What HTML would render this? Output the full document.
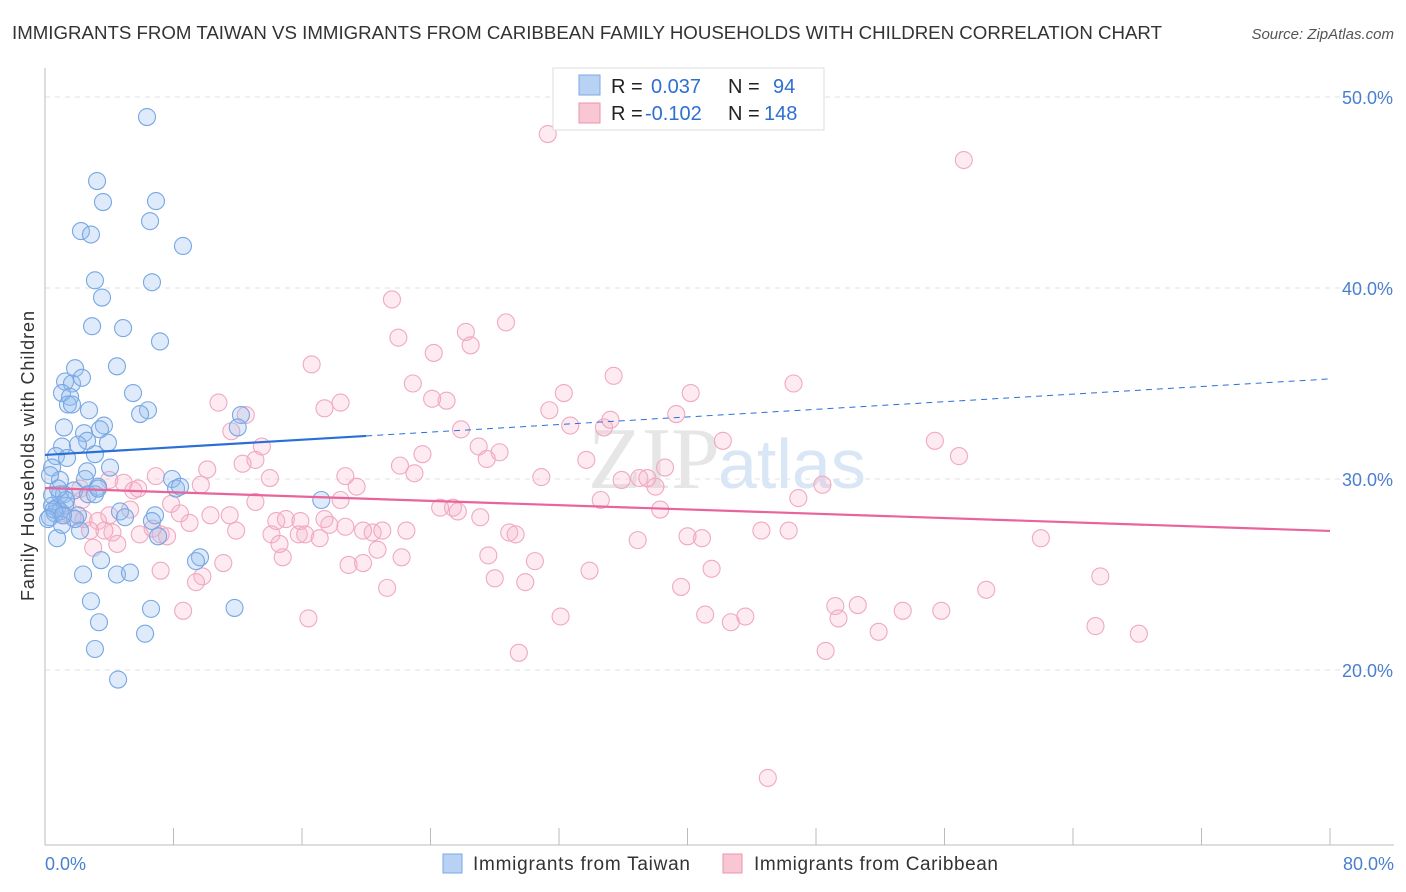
<!DOCTYPE html>
<html><head><meta charset="utf-8"><style>
body{margin:0;background:#fff;font-family:"Liberation Sans",sans-serif;}
svg{display:block}
</style></head><body>
<svg id="chart" width="1406" height="892">
<text x="12" y="39" font-size="18" fill="#333" textLength="1150" lengthAdjust="spacingAndGlyphs">IMMIGRANTS FROM TAIWAN VS IMMIGRANTS FROM CARIBBEAN FAMILY HOUSEHOLDS WITH CHILDREN CORRELATION CHART</text>
<text x="1394" y="39" font-size="15" fill="#555" font-style="italic" text-anchor="end">Source: ZipAtlas.com</text>
<g id="grid"></g>
<text x="720" y="488" font-size="88" fill="#e6e6e6" text-anchor="end" font-family="Liberation Serif,serif">ZIP</text>
<text x="718" y="488" font-size="70" fill="#d9e6f5">atlas</text>
<g id="points"></g>
<g id="trends"></g>
<text x="34" y="456" font-size="18" fill="#333" text-anchor="middle" transform="rotate(-90 34 456)" textLength="290">Family Households with Children</text>
<text x="45" y="870" font-size="18" fill="#4a7fd0">0.0%</text>
<text x="1394" y="870" font-size="18" fill="#4a7fd0" text-anchor="end">80.0%</text>
<g>
<rect x="553" y="68" width="271" height="62" fill="#fff" stroke="#ddd"/>
<rect x="579" y="75" width="21" height="20" fill="#b8d2f4" stroke="#7aa8e4"/>
<rect x="579" y="103" width="21" height="20" fill="#f9c6d4" stroke="#eb94b0"/>
<text x="611" y="93" font-size="20" fill="#222">R = <tspan fill="#2e6fd0" x="651">0.037</tspan><tspan x="728">N = </tspan><tspan fill="#2e6fd0" x="773">94</tspan></text>
<text x="611" y="120" font-size="20" fill="#222">R = <tspan fill="#2e6fd0" x="645">-0.102</tspan><tspan x="728">N = </tspan><tspan fill="#2e6fd0" x="764">148</tspan></text>
</g>
<g>
<rect x="443" y="854" width="19" height="19" fill="#b8d2f4" stroke="#7aa8e4"/>
<text x="473" y="870" font-size="19" fill="#333" textLength="217">Immigrants from Taiwan</text>
<rect x="723" y="854" width="19" height="19" fill="#f9c6d4" stroke="#eb94b0"/>
<text x="754" y="870" font-size="19" fill="#333" textLength="244">Immigrants from Caribbean</text>
</g>
</svg>
<script>
const yTicks=[20,30,40,50];
const xTickVals=[0,8,16,24,32,40,48,56,64,72,80];
const blueX=[6.35,3.24,3.61,6.91,2.24,2.86,6.54,8.59,3.11,3.55,6.66,2.93,4.86,7.16,4.48,1.87,1.25,1.68,2.3,1.06,1.56,1.43,1.68,5.48,2.74,6.41,5.92,12.2,12.0,1.18,3.67,2.43,3.42,2.62,3.92,1.06,2.05,0.68,1.37,3.11,0.44,4.05,2.62,0.93,2.49,7.91,0.93,1.81,1.18,2.68,3.3,3.11,8.16,8.41,17.2,0.44,0.75,1.25,0.93,0.62,0.31,2.05,4.67,4.98,6.85,6.66,7.04,2.18,0.75,9.65,9.4,3.49,2.37,4.48,5.29,2.86,6.6,11.8,3.36,6.23,3.11,4.55,0.44,0.56,0.19,1.31,0.81,1.87,1.06,0.31,3.3,1.12];
const blueY=[48.95,45.6,44.5,44.55,42.98,42.8,43.5,42.2,40.4,39.5,40.3,38.0,37.9,37.2,35.9,35.8,35.1,35.0,35.3,34.5,34.3,33.9,33.9,34.5,33.6,33.6,33.4,33.35,32.7,32.7,32.8,32.4,32.6,32.0,31.9,31.7,31.8,31.2,31.1,31.3,30.6,30.6,30.4,29.95,30.0,30.0,29.2,29.4,29.2,29.2,29.6,29.2,29.5,29.6,28.9,28.6,28.5,28.6,28.3,28.2,28.0,28.1,28.3,28.0,28.1,27.8,27.0,27.3,26.9,25.9,25.7,25.75,25.0,25.0,25.1,23.6,23.2,23.25,22.5,21.9,21.1,19.5,29.15,28.4,27.9,28.9,29.5,27.9,27.6,30.2,29.5,28.1];
const pinkX=[31.3,57.2,21.6,28.7,26.2,22.0,26.5,24.2,16.6,35.4,22.9,32.3,40.2,46.6,18.4,24.1,25.0,10.8,17.4,31.4,39.3,12.5,11.6,25.9,32.7,34.8,35.2,42.2,55.4,13.5,27.0,28.3,27.5,13.1,23.5,56.9,33.7,38.6,12.3,10.1,6.9,18.7,23.0,30.9,35.9,37.0,37.5,38.0,4.9,5.5,5.8,19.4,48.4,18.4,46.9,7.85,13.1,24.6,25.4,25.7,1.1,1.7,2.4,3.3,4.0,8.4,9.0,10.3,11.5,14.4,15.0,15.9,17.4,27.1,4.2,5.9,6.7,7.6,11.9,14.1,15.8,17.1,17.7,19.8,20.4,21.0,22.5,28.9,29.3,36.9,40.0,40.9,44.6,46.3,62.0,3.0,4.5,14.8,20.7,22.2,27.6,30.5,7.2,9.8,11.1,18.9,19.8,28.0,29.9,33.9,41.5,65.7,9.4,21.3,39.6,58.6,8.6,16.4,32.1,41.1,42.7,43.6,49.2,50.6,53.4,55.8,49.4,51.9,65.4,68.1,29.5,48.6,45.0,2.2,2.3,2.8,3.7,5.3,7.2,14.6,16.2,18.7,4.0,9.7,14.0,22.1,38.3,34.6];
const pinkY=[48.06,46.7,39.4,38.2,37.7,37.4,37.0,36.6,36.0,35.4,35.0,34.5,34.5,35.0,34.0,34.2,34.1,34.0,33.7,33.6,33.4,33.35,32.5,32.6,32.8,32.7,33.1,32.0,32.0,31.7,31.7,31.4,31.05,31.0,31.3,31.2,31.0,30.6,30.8,30.5,30.15,30.15,30.3,30.1,29.95,30.05,30.05,29.6,29.8,29.4,29.5,29.6,29.7,28.9,29.0,28.7,28.8,28.5,28.5,28.3,28.2,28.0,27.9,27.8,28.1,28.2,27.7,28.1,28.1,27.8,27.9,27.8,27.9,28.0,27.2,27.1,27.4,27.0,27.3,27.1,27.1,26.9,27.6,27.3,27.2,27.3,27.3,27.2,27.1,26.8,27.0,26.9,27.3,27.3,26.9,26.4,26.6,25.9,26.3,25.9,26.0,25.7,25.2,24.9,25.6,25.5,25.6,24.8,24.6,25.2,25.3,24.9,24.6,24.3,24.35,24.2,23.1,22.7,22.8,22.9,22.5,22.8,23.35,23.4,23.1,23.1,22.7,22.0,22.3,21.9,20.9,21.0,14.35,29.5,28.9,27.3,27.3,28.4,27.1,26.6,27.1,27.5,29.95,29.7,30.05,30.7,28.4,28.9];
const blueTrend=[31.26,35.24];
const blueSolidEnd=20.0;
const pinkTrend=[29.53,27.28];

const NS="http://www.w3.org/2000/svg";
const X0=45,X1=1330;
const xs=v=>X0+v/80*(X1-X0);
const ys=v=>479-(v-30)*19.1;
function mk(tag,attrs,parent){const e=document.createElementNS(NS,tag);for(const k in attrs)e.setAttribute(k,attrs[k]);parent.appendChild(e);return e;}
const grid=document.getElementById('grid');
yTicks.forEach(t=>{
  const l=mk('line',{x1:X0,x2:1394,y1:ys(t),y2:ys(t),stroke:'#e2e2e2','stroke-dasharray':'5,5'},grid);
  
  
  const tx=mk('text',{x:1393,y:ys(t)+7,'font-size':18,fill:'#4a7fd0','text-anchor':'end'},grid);
  tx.textContent=t.toFixed(1)+'%';
  
  
});
const ax=mk('line',{x1:X0,x2:X0,y1:68,y2:845,stroke:'#bbb'},grid);


const bx=mk('line',{x1:X0,x2:1394,y1:845,y2:845,stroke:'#bbb'},grid);


xTickVals.forEach(t=>{
  const l=mk('line',{x1:xs(t),x2:xs(t),y1:828,y2:845,stroke:'#bbb'},grid);
  
  
});
const pts=document.getElementById('points');
pinkX.forEach((v,i)=>{
  const c=mk('circle',{cx:xs(v),cy:ys(pinkY[i]),r:8.5,fill:'rgba(246,175,198,0.25)',stroke:'#f0a9c0','stroke-width':1.1},pts);
  
  
});
blueX.forEach((v,i)=>{
  const c=mk('circle',{cx:xs(v),cy:ys(blueY[i]),r:8.5,fill:'rgba(150,188,238,0.3)',stroke:'#77a7e4','stroke-width':1.1},pts);
  
  
});
const tr=document.getElementById('trends');
const by=x=>blueTrend[0]+(blueTrend[1]-blueTrend[0])*x/80;
const b1=mk('line',{x1:xs(0),y1:ys(by(0)),x2:xs(blueSolidEnd),y2:ys(by(blueSolidEnd)),stroke:'#2a6fd6','stroke-width':2.2},tr);


const b2=mk('line',{x1:xs(blueSolidEnd),y1:ys(by(blueSolidEnd)),x2:xs(80),y2:ys(by(80)),stroke:'#2a6fd6','stroke-width':1,'stroke-dasharray':'6,5'},tr);


const p1=mk('line',{x1:xs(0),y1:ys(pinkTrend[0]),x2:xs(80),y2:ys(pinkTrend[1]),stroke:'#e8649a','stroke-width':2.2},tr);


</script>
</body></html>
